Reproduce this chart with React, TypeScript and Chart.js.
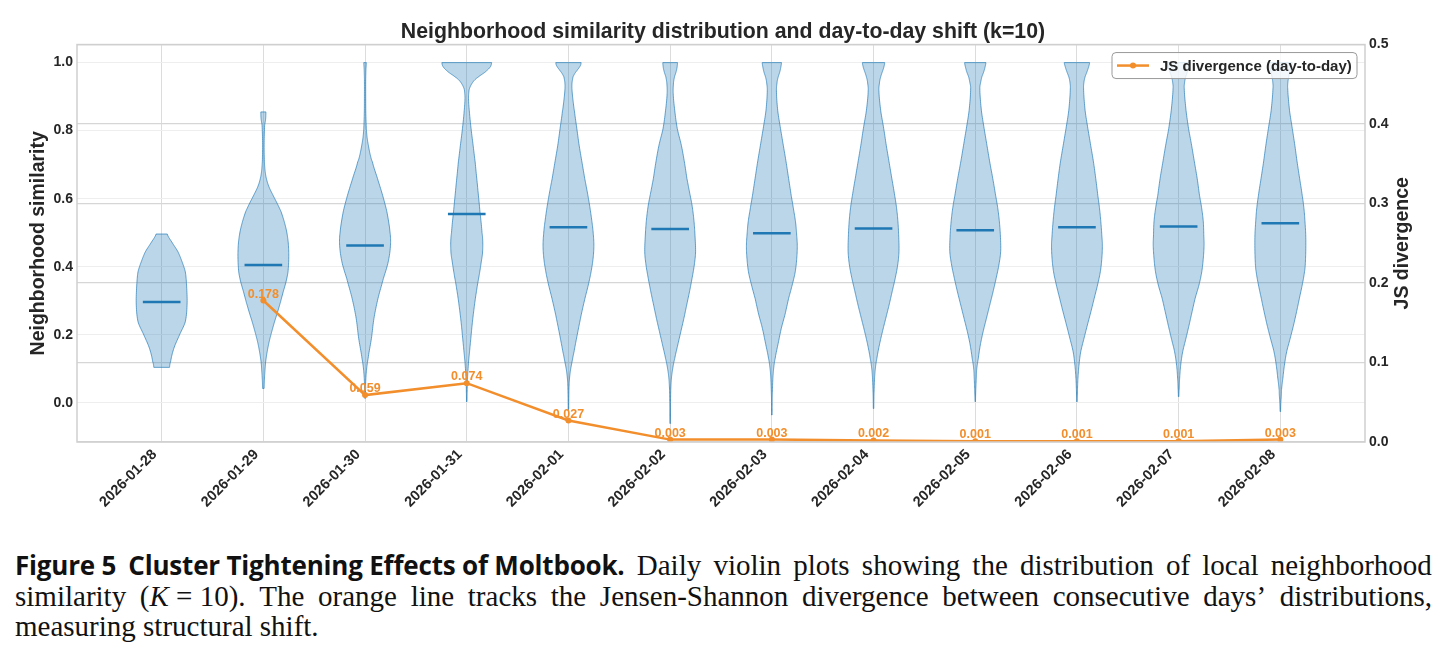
import React, { useEffect, useRef } from 'react';
import { Chart, registerables } from 'chart.js';

Chart.register(...registerables);

// ---------------- data ----------------
const dates = [
  '2026-01-28', '2026-01-29', '2026-01-30', '2026-01-31', '2026-02-01', '2026-02-02',
  '2026-02-03', '2026-02-04', '2026-02-05', '2026-02-06', '2026-02-07', '2026-02-08',
];

// median neighborhood similarity per day
const medians = [0.296, 0.405, 0.462, 0.555, 0.516, 0.511, 0.498, 0.512, 0.507, 0.516, 0.518, 0.528];

// JS divergence between consecutive days (starting at 2026-01-29)
const jsDivergence = [0.178, 0.059, 0.074, 0.027, 0.003, 0.003, 0.002, 0.001, 0.001, 0.001, 0.003];

// violin density profiles: [similarity level, relative density (max = 1)], top to bottom
const violinProfiles: number[][][] = [
  [[0.496, 0.22], [0.47, 0.42], [0.444, 0.64], [0.415, 0.8], [0.385, 0.93], [0.346, 0.98], [0.29, 1.0], [0.238, 0.93], [0.199, 0.7], [0.16, 0.48], [0.12, 0.35], [0.104, 0.31]],
  [[0.855, 0.1], [0.835, 0.09], [0.815, 0.05], [0.76, 0.03], [0.71, 0.04], [0.68, 0.07], [0.659, 0.12], [0.635, 0.22], [0.61, 0.38], [0.585, 0.55], [0.561, 0.7], [0.53, 0.83], [0.502, 0.92], [0.47, 0.98], [0.43, 1.0], [0.385, 0.97], [0.355, 0.89], [0.326, 0.78], [0.295, 0.67], [0.267, 0.56], [0.238, 0.44], [0.209, 0.33], [0.18, 0.23], [0.15, 0.15], [0.12, 0.09], [0.091, 0.06], [0.065, 0.04], [0.042, 0.03]],
  [[1.0, 0.05], [0.98, 0.035], [0.95, 0.025], [0.9, 0.025], [0.85, 0.03], [0.806, 0.05], [0.78, 0.08], [0.757, 0.13], [0.73, 0.2], [0.708, 0.29], [0.659, 0.49], [0.61, 0.69], [0.561, 0.86], [0.502, 0.98], [0.463, 1.0], [0.414, 0.91], [0.365, 0.72], [0.307, 0.51], [0.248, 0.35], [0.189, 0.25], [0.13, 0.12], [0.091, 0.05], [0.05, 0.02], [0.013, 0.015]],
  [[1.0, 0.98], [0.987, 0.92], [0.972, 0.72], [0.958, 0.46], [0.948, 0.3], [0.938, 0.2], [0.928, 0.13], [0.919, 0.09], [0.894, 0.07], [0.85, 0.11], [0.806, 0.17], [0.757, 0.25], [0.708, 0.33], [0.64, 0.42], [0.561, 0.52], [0.5, 0.6], [0.473, 0.63], [0.44, 0.62], [0.414, 0.57], [0.38, 0.5], [0.346, 0.42], [0.307, 0.34], [0.267, 0.27], [0.228, 0.21], [0.189, 0.16], [0.15, 0.11], [0.12, 0.07], [0.072, 0.03], [0.03, 0.015], [0.003, 0.01]],
  [[1.0, 0.5], [0.99, 0.46], [0.977, 0.34], [0.968, 0.25], [0.958, 0.18], [0.94, 0.14], [0.92, 0.14], [0.889, 0.18], [0.855, 0.24], [0.806, 0.33], [0.757, 0.42], [0.708, 0.53], [0.659, 0.64], [0.62, 0.74], [0.581, 0.83], [0.54, 0.91], [0.502, 0.97], [0.463, 1.0], [0.425, 0.97], [0.385, 0.89], [0.346, 0.78], [0.307, 0.65], [0.268, 0.53], [0.228, 0.42], [0.19, 0.32], [0.15, 0.22], [0.12, 0.14], [0.091, 0.07], [0.06, 0.03], [0.02, 0.015], [-0.02, 0.01]],
  [[1.0, 0.29], [0.985, 0.27], [0.972, 0.23], [0.958, 0.17], [0.94, 0.13], [0.909, 0.12], [0.86, 0.18], [0.806, 0.28], [0.757, 0.44], [0.708, 0.56], [0.659, 0.66], [0.62, 0.76], [0.581, 0.86], [0.54, 0.93], [0.502, 0.97], [0.444, 1.0], [0.405, 0.95], [0.365, 0.86], [0.326, 0.76], [0.287, 0.65], [0.248, 0.54], [0.209, 0.42], [0.17, 0.3], [0.13, 0.18], [0.1, 0.1], [0.072, 0.05], [0.04, 0.025], [0.0, 0.015], [-0.03, 0.01], [-0.061, 0.01]],
  [[1.0, 0.38], [0.985, 0.35], [0.972, 0.31], [0.958, 0.25], [0.945, 0.21], [0.919, 0.18], [0.86, 0.23], [0.806, 0.34], [0.757, 0.45], [0.708, 0.56], [0.659, 0.66], [0.61, 0.76], [0.57, 0.85], [0.532, 0.93], [0.5, 0.97], [0.463, 1.0], [0.425, 0.98], [0.385, 0.92], [0.346, 0.8], [0.307, 0.66], [0.26, 0.52], [0.218, 0.37], [0.175, 0.25], [0.13, 0.13], [0.1, 0.07], [0.072, 0.04], [0.03, 0.02], [0.0, 0.012], [-0.036, 0.01]],
  [[1.0, 0.44], [0.985, 0.4], [0.972, 0.34], [0.958, 0.28], [0.945, 0.24], [0.919, 0.21], [0.86, 0.28], [0.806, 0.4], [0.757, 0.5], [0.708, 0.61], [0.659, 0.72], [0.61, 0.83], [0.57, 0.91], [0.532, 0.96], [0.49, 0.99], [0.444, 1.0], [0.405, 0.95], [0.365, 0.85], [0.326, 0.73], [0.287, 0.61], [0.248, 0.48], [0.209, 0.35], [0.17, 0.23], [0.13, 0.13], [0.1, 0.07], [0.072, 0.04], [0.03, 0.02], [0.0, 0.012], [-0.017, 0.01]],
  [[1.0, 0.42], [0.985, 0.38], [0.972, 0.33], [0.958, 0.26], [0.945, 0.22], [0.925, 0.18], [0.86, 0.24], [0.806, 0.35], [0.757, 0.46], [0.708, 0.57], [0.659, 0.69], [0.61, 0.8], [0.57, 0.89], [0.532, 0.95], [0.49, 0.99], [0.444, 1.0], [0.405, 0.93], [0.365, 0.82], [0.326, 0.7], [0.287, 0.57], [0.248, 0.44], [0.209, 0.31], [0.17, 0.2], [0.13, 0.12], [0.1, 0.06], [0.072, 0.04], [0.035, 0.02], [0.003, 0.01]],
  [[1.0, 0.5], [0.985, 0.45], [0.972, 0.39], [0.958, 0.32], [0.945, 0.28], [0.925, 0.26], [0.86, 0.32], [0.806, 0.43], [0.757, 0.54], [0.708, 0.65], [0.659, 0.74], [0.61, 0.82], [0.57, 0.89], [0.532, 0.94], [0.49, 0.98], [0.463, 1.0], [0.425, 0.98], [0.385, 0.92], [0.346, 0.81], [0.307, 0.68], [0.268, 0.55], [0.228, 0.41], [0.19, 0.28], [0.15, 0.15], [0.11, 0.08], [0.072, 0.04], [0.035, 0.02], [0.003, 0.01]],
  [[1.0, 0.45], [0.985, 0.4], [0.972, 0.34], [0.958, 0.28], [0.945, 0.24], [0.925, 0.22], [0.86, 0.29], [0.806, 0.39], [0.757, 0.51], [0.708, 0.62], [0.659, 0.73], [0.61, 0.82], [0.57, 0.91], [0.532, 0.97], [0.49, 0.99], [0.463, 1.0], [0.425, 0.97], [0.385, 0.91], [0.346, 0.8], [0.307, 0.65], [0.268, 0.53], [0.228, 0.41], [0.19, 0.29], [0.15, 0.16], [0.11, 0.08], [0.072, 0.04], [0.04, 0.02], [0.018, 0.01]],
  [[1.0, 0.46], [0.985, 0.42], [0.972, 0.37], [0.958, 0.33], [0.945, 0.3], [0.925, 0.29], [0.86, 0.36], [0.806, 0.47], [0.757, 0.57], [0.708, 0.66], [0.659, 0.76], [0.61, 0.86], [0.57, 0.93], [0.532, 0.97], [0.49, 1.0], [0.444, 1.0], [0.405, 0.98], [0.385, 0.95], [0.346, 0.86], [0.307, 0.75], [0.268, 0.64], [0.228, 0.52], [0.19, 0.39], [0.15, 0.25], [0.11, 0.16], [0.072, 0.1], [0.04, 0.05], [0.023, 0.04], [0.0, 0.02], [-0.026, 0.01]],
];

const leftTicks = [0, 0.2, 0.4, 0.6, 0.8, 1.0];
const rightTicks = [0, 0.1, 0.2, 0.3, 0.4, 0.5];

const chartTitle = 'Neighborhood similarity distribution and day-to-day shift (k=10)';
const leftAxisTitle = 'Neighborhood similarity';
const rightAxisTitle = 'JS divergence';
const seriesLabel = 'JS divergence (day-to-day)';

// ---------------- styles ----------------
const FONT = "'Liberation Sans', Arial, sans-serif";
const TEXT = '#262626';
const BLUE = '#1f77b4';
const ORANGE = '#f28e2b';
const VIOLIN_HALF = 0.25; // half width in category units
const MEDIAN_HALF = 0.185;

function smooth(pts: { y: number; w: number }[]) {
  const out: { y: number; w: number }[] = [];
  const n = pts.length;
  for (let i = 0; i < n - 1; i++) {
    const p0 = pts[Math.max(i - 1, 0)], p1 = pts[i], p2 = pts[i + 1], p3 = pts[Math.min(i + 2, n - 1)];
    for (let s = 0; s < 10; s++) {
      const t = s / 10, t2 = t * t, t3 = t2 * t;
      const w = 0.5 * (2 * p1.w + (-p0.w + p2.w) * t + (2 * p0.w - 5 * p1.w + 4 * p2.w - p3.w) * t2 + (-p0.w + 3 * p1.w - 3 * p2.w + p3.w) * t3);
      out.push({ y: p1.y + (p2.y - p1.y) * t, w: Math.max(0.2, w) });
    }
  }
  out.push(pts[n - 1]);
  return out;
}

const violinPlugin = {
  id: 'violins',
  beforeDatasetsDraw(chart: any) {
    const { ctx, chartArea, scales } = chart;
    const x = scales.x, y = scales.y;
    ctx.save();
    ctx.beginPath();
    ctx.rect(chartArea.left, chartArea.top, chartArea.right - chartArea.left, chartArea.bottom - chartArea.top);
    ctx.clip();
    violinProfiles.forEach((prof, i) => {
      const cx = x.getPixelForValue(i);
      const half = x.getPixelForValue(i + VIOLIN_HALF) - cx;
      const pts = prof.map(([v, w]) => ({ y: y.getPixelForValue(v), w: w * half }));
      const d = smooth(pts);
      ctx.beginPath();
      d.forEach((p, k) => (k ? ctx.lineTo(cx + p.w, p.y) : ctx.moveTo(cx + p.w, p.y)));
      for (let k = d.length - 1; k >= 0; k--) ctx.lineTo(cx - d[k].w, d[k].y);
      ctx.closePath();
      ctx.fillStyle = 'rgba(31,119,180,0.3)';
      ctx.fill();
      ctx.strokeStyle = 'rgba(31,119,180,0.75)';
      ctx.lineWidth = 0.9;
      ctx.stroke();
    });
    medians.forEach((m, i) => {
      const x0 = x.getPixelForValue(i - MEDIAN_HALF);
      const x1 = x.getPixelForValue(i + MEDIAN_HALF);
      const yy = y.getPixelForValue(m);
      ctx.beginPath();
      ctx.moveTo(x0, yy);
      ctx.lineTo(x1, yy);
      ctx.strokeStyle = BLUE;
      ctx.lineWidth = 2.5;
      ctx.stroke();
    });
    ctx.restore();
  },
};

const decorPlugin = {
  id: 'decor',
  afterDatasetsDraw(chart: any) {
    const { ctx } = chart;
    const meta = chart.getDatasetMeta(0);
    ctx.save();
    ctx.font = `bold 12.5px ${FONT}`;
    ctx.fillStyle = ORANGE;
    ctx.textAlign = 'center';
    ctx.textBaseline = 'alphabetic';
    meta.data.forEach((pt: any, i: number) => {
      ctx.fillText(jsDivergence[i].toFixed(3), pt.x, pt.y - 3);
    });
    ctx.restore();
  },
  afterDraw(chart: any) {
    const { ctx, chartArea } = chart;
    ctx.save();
    // frame
    ctx.strokeStyle = '#cfcfcf';
    ctx.lineWidth = 1.5;
    ctx.strokeRect(chartArea.left, chartArea.top, chartArea.right - chartArea.left, chartArea.bottom - chartArea.top);
    // right axis title
    ctx.save();
    ctx.translate(chartArea.right + 38, (chartArea.top + chartArea.bottom) / 2);
    ctx.rotate(-Math.PI / 2);
    ctx.font = `bold 19.5px ${FONT}`;
    ctx.fillStyle = TEXT;
    ctx.textAlign = 'center';
    ctx.textBaseline = 'middle';
    ctx.fillText(rightAxisTitle, 0, 0);
    ctx.restore();
    // legend
    const lx = chartArea.right - 253, ly = chartArea.top + 8, lw = 245, lh = 26;
    ctx.beginPath();
    ctx.roundRect(lx, ly, lw, lh, 4);
    ctx.fillStyle = 'rgba(255,255,255,0.8)';
    ctx.fill();
    ctx.strokeStyle = '#9a9a9a';
    ctx.lineWidth = 1;
    ctx.stroke();
    const my = ly + lh / 2;
    ctx.beginPath();
    ctx.moveTo(lx + 5, my);
    ctx.lineTo(lx + 37, my);
    ctx.strokeStyle = ORANGE;
    ctx.lineWidth = 2.5;
    ctx.stroke();
    ctx.beginPath();
    ctx.arc(lx + 21, my, 3, 0, Math.PI * 2);
    ctx.fillStyle = ORANGE;
    ctx.fill();
    ctx.font = `bold 15px ${FONT}`;
    ctx.fillStyle = TEXT;
    ctx.textAlign = 'left';
    ctx.textBaseline = 'middle';
    ctx.fillText(seriesLabel, lx + 48, my + 1);
    ctx.restore();
  },
};

const tickFont = { family: FONT, size: 14, weight: 'bold' as const };

const captionLine1 = ['Daily', 'violin', 'plots', 'showing', 'the', 'distribution', 'of', 'local', 'neighborhood'];
const captionLine2 = ['similarity', '(K = 10).', 'The', 'orange', 'line', 'tracks', 'the', 'Jensen-Shannon', 'divergence', 'between', 'consecutive', 'days\u2019', 'distributions,'];
const captionLine3 = 'measuring structural shift.';
const captionHeadA = 'Figure 5';
const captionHeadB = 'Cluster Tightening Effects of Moltbook.';

export default function App() {
  const ref = useRef<HTMLCanvasElement>(null);
  useEffect(() => {
    const chart = new Chart(ref.current as HTMLCanvasElement, {
      type: 'line',
      data: {
        datasets: [
          {
            label: seriesLabel,
            data: jsDivergence.map((v, i) => ({ x: i + 1, y: v })),
            xAxisID: 'x',
            yAxisID: 'y2',
            borderColor: ORANGE,
            backgroundColor: ORANGE,
            borderWidth: 2.5,
            pointRadius: 3,
            pointBackgroundColor: ORANGE,
            pointBorderWidth: 0,
            tension: 0,
          },
        ],
      },
      plugins: [violinPlugin, decorPlugin],
      options: {
        animation: false,
        responsive: true,
        maintainAspectRatio: false,
        layout: { padding: 0 },
        plugins: {
          legend: { display: false },
          tooltip: { enabled: false },
          title: {
            display: true,
            text: chartTitle,
            color: TEXT,
            font: { family: FONT, size: 21.3, weight: 'bold' },
            padding: { top: 19, bottom: 0 },
          },
        },
        scales: {
          x: {
            type: 'linear',
            min: -0.8325,
            max: 11.8325,
            afterBuildTicks: (s: any) => {
              s.ticks = dates.map((_, i) => ({ value: i }));
            },
            afterFit: (s: any) => {
              s.height = 78;
            },
            ticks: {
              autoSkip: false,
              maxRotation: 45,
              minRotation: 45,
              padding: 4,
              labelOffset: -7,
              color: TEXT,
              font: { family: FONT, size: 14.5, weight: 'bold' },
              callback: (_v: any, i: number) => dates[i],
            },
            grid: { color: '#dcdcdc', lineWidth: 1, drawTicks: false },
            border: { display: false },
          },
          y: {
            type: 'linear',
            position: 'left',
            min: -0.1155,
            max: 1.0531,
            afterBuildTicks: (s: any) => {
              s.ticks = leftTicks.map((v) => ({ value: v }));
            },
            afterFit: (s: any) => {
              s.width = 77;
            },
            ticks: {
              padding: 4,
              color: TEXT,
              font: tickFont,
              callback: (v: any) => Number(v).toFixed(1),
            },
            grid: { color: '#eeeeee', lineWidth: 1, drawTicks: false },
            border: { display: false },
            title: {
              display: true,
              text: leftAxisTitle,
              color: TEXT,
              font: { family: FONT, size: 19.5, weight: 'bold' },
              padding: { top: 27, bottom: 0 },
            },
          },
          y2: {
            type: 'linear',
            position: 'right',
            min: 0,
            max: 0.5,
            afterBuildTicks: (s: any) => {
              s.ticks = rightTicks.map((v) => ({ value: v }));
            },
            afterFit: (s: any) => {
              s.width = 81;
            },
            ticks: {
              padding: 4,
              color: TEXT,
              font: tickFont,
              callback: (v: any) => Number(v).toFixed(1),
            },
            grid: { color: '#d6d6d6', lineWidth: 1.3, drawTicks: false },
            border: { display: false },
          },
        },
      },
    } as any);
    return () => chart.destroy();
  }, []);

  const serif: React.CSSProperties = { fontFamily: "'Liberation Serif', 'Times New Roman', serif", fontSize: 29, color: '#111' };
  const lineStyle: React.CSSProperties = { display: 'flex', justifyContent: 'space-between', alignItems: 'baseline', whiteSpace: 'pre', height: 30.5, lineHeight: '30.5px' };
  const headStyle: React.CSSProperties = { fontFamily: "'Open Sans', sans-serif", fontWeight: 700, fontSize: 26, letterSpacing: -0.2 };

  return (
    <div style={{ position: 'absolute', left: 0, top: 0, width: 1446, height: 657, overflow: 'hidden', background: '#fff' }}>
      <div style={{ position: 'absolute', left: 0, top: 0, width: 1446, height: 520 }}>
        <canvas ref={ref} />
      </div>
      <div style={{ position: 'absolute', left: 15, top: 550, width: 1417, ...serif }}>
        <div style={lineStyle}>
          <span style={headStyle}>{captionHeadA}</span>
          <span style={headStyle}>{captionHeadB}</span>
          {captionLine1.map((w, i) => (
            <span key={i}>{w}</span>
          ))}
        </div>
        <div style={lineStyle}>
          {captionLine2.map((w, i) => (
            <span key={i}>{w === '(K = 10).' ? <>(<i>K</i> = 10).</> : w}</span>
          ))}
        </div>
        <div style={{ height: 30.5, lineHeight: '30.5px', whiteSpace: 'pre' }}>{captionLine3}</div>
      </div>
    </div>
  );
}
